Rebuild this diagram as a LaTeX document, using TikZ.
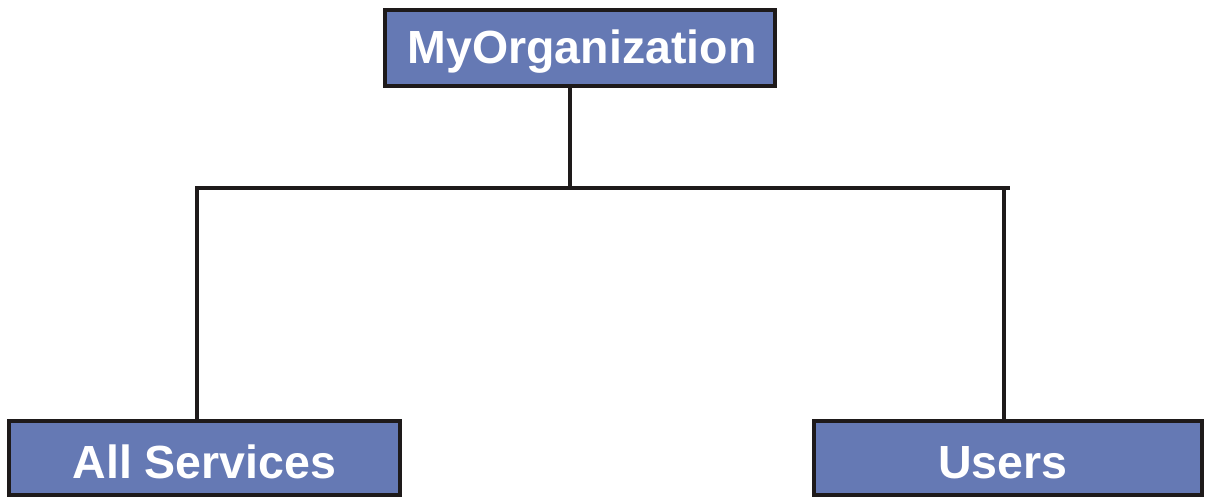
\documentclass[tikz,border=0pt]{standalone}
\usepackage{fontspec}
\setmainfont{Liberation Sans}
\definecolor{boxblue}{RGB}{101,121,180}
\definecolor{edge}{RGB}{30,26,26}
\begin{document}
\begin{tikzpicture}[x=1pt,y=-1pt,
  orgbox/.style={draw=edge, line width=4pt, fill=boxblue, rectangle, inner sep=0pt,
    text=white, text height=33pt, text depth=0pt,
    font=\fontsize{46.5}{50}\selectfont\bfseries},
  link/.style={draw=edge, line width=4pt}]
\useasboundingbox (0,0) rectangle (1206,498);
\node[orgbox, minimum width=390pt, minimum height=76pt] (top) at (580,48) {\raisebox{1.5pt}{\hspace*{2pt}MyOrganization\hspace*{-2pt}}};
\node[orgbox, minimum width=391pt, minimum height=74pt] (left) at (204.5,458) {\raisebox{-4pt}{All Services}};
\node[orgbox, minimum width=388pt, minimum height=74pt] (right) at (1008,458) {\raisebox{-4pt}{\hspace*{-5pt}Users\hspace*{5pt}}};
\coordinate (j) at (570,188);
\coordinate (jl) at (197,188);
\coordinate (jr) at (1004,188);
\coordinate (jre) at (1010,188);
\draw[link] (j |- top.south) -- (j);
\draw[link] ([xshift=-2pt]jl) -- (jre);
\draw[link] (jl) -- (jl |- left.north);
\draw[link] (jr) -- (jr |- right.north);
\end{tikzpicture}
\end{document}
